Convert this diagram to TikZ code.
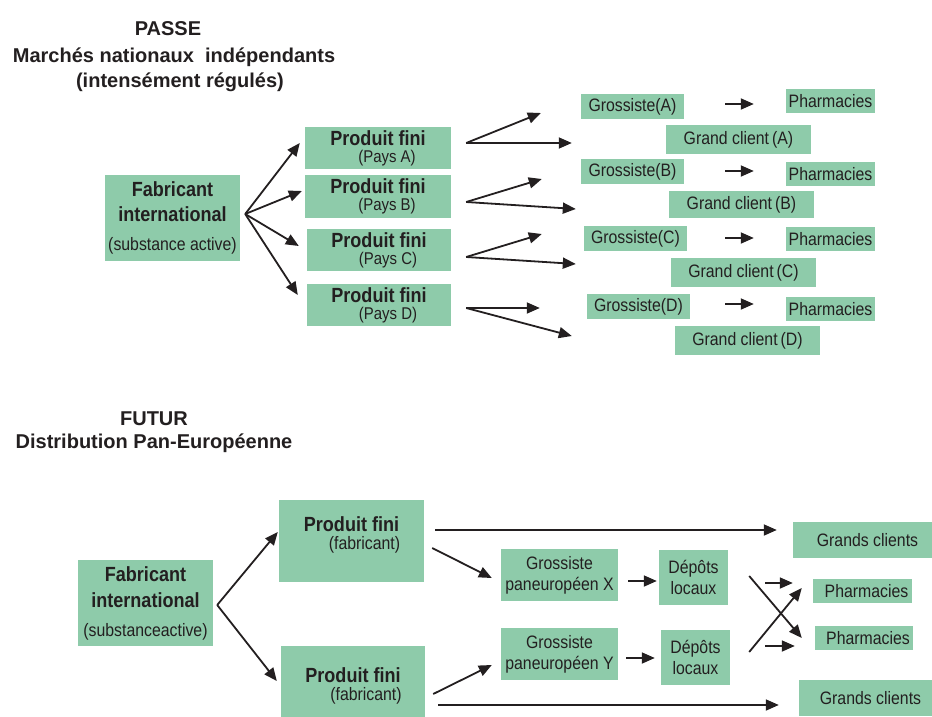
\documentclass[tikz,border=0pt]{standalone}
\usepackage{fontspec}
\setmainfont{Liberation Sans}[FakeStretch=0.88]
\newfontfamily\titlefont{Liberation Sans}
\usetikzlibrary{arrows.meta}

\definecolor{boxgreen}{RGB}{142,203,170}
\definecolor{ink}{RGB}{35,31,32}
\newcommand{\boldtxt}{\fontsize{20.5}{25}\selectfont\bfseries}
\newcommand{\paystxt}{\fontsize{17}{21}\selectfont}

\begin{document}
\begin{tikzpicture}[x=1pt, y=-1pt,
        box/.style={fill=boxgreen, inner sep=0pt, align=center, text=ink, font=\fontsize{18}{21}\selectfont},
        arrow/.style={-{Triangle[length=13pt,width=11pt]}, line width=1.8pt, draw=ink},
        title/.style={anchor=north, align=center, text=ink, inner sep=0pt, font=\titlefont\fontsize{20}{26}\selectfont\bfseries}
    ]
        \useasboundingbox (0,0) rectangle (932,717);

        % Titles
        \node[title] (passe) at (174,21) {\hspace*{-12pt}PASSE\\[1pt]Marchés nationaux \ indépendants\\[-1pt]\hspace*{12pt}(intensément régulés)};
        \node[title] (futur) at (154,412) {FUTUR\\[-3pt]Distribution Pan-Européenne};

        % Past: national markets
        \node[box, minimum width=135pt, minimum height=86pt] (fab) at (172.5,218) {{\boldtxt Fabricant}\\[4pt]{\boldtxt international}\\[8pt](substance active)};

        \node[box, minimum width=146pt, minimum height=42pt] (pfA) at (378,148) {{\boldtxt Produit fini}\\[-4pt]\hspace*{18pt}{\paystxt(Pays A)}};
        \node[box, minimum width=146pt, minimum height=43pt] (pfB) at (378,196.5) {{\boldtxt Produit fini}\\[-4pt]\hspace*{18pt}{\paystxt(Pays B)}};
        \node[box, minimum width=144pt, minimum height=42pt] (pfC) at (379,250) {{\boldtxt Produit fini}\\[-4pt]\hspace*{18pt}{\paystxt(Pays C)}};
        \node[box, minimum width=144pt, minimum height=42pt] (pfD) at (379,305) {{\boldtxt Produit fini}\\[-4pt]\hspace*{18pt}{\paystxt(Pays D)}};

        \node[box, minimum width=103pt, minimum height=25pt] (gA) at (632.5,106.5) {Grossiste(A)};
        \node[box, minimum width=89pt, minimum height=24pt] (phA) at (830.5,101) {Pharmacies};
        \node[box, minimum width=145pt, minimum height=29pt] (gcA) at (738.5,139.5) {Grand client\,(A)};

        \node[box, minimum width=103pt, minimum height=25pt] (gB) at (632.5,171.5) {Grossiste(B)};
        \node[box, minimum width=89pt, minimum height=24pt] (phB) at (830.5,174) {Pharmacies};
        \node[box, minimum width=145pt, minimum height=27pt] (gcB) at (741.5,204.5) {Grand client\,(B)};

        \node[box, minimum width=103pt, minimum height=25pt] (gC) at (635.5,238.5) {Grossiste(C)};
        \node[box, minimum width=89pt, minimum height=24pt] (phC) at (830.5,239) {Pharmacies};
        \node[box, minimum width=145pt, minimum height=29pt] (gcC) at (743.5,272.5) {Grand client\,(C)};

        \node[box, minimum width=103pt, minimum height=25pt] (gD) at (638.5,306.5) {Grossiste(D)};
        \node[box, minimum width=89pt, minimum height=24pt] (phD) at (830.5,309) {Pharmacies};
        \node[box, minimum width=145pt, minimum height=29pt] (gcD) at (747.5,340.5) {Grand client\,(D)};

        % Manufacturer to each country
        \coordinate (fork) at ([shift={(5,-4)}]fab.east);
        \draw[arrow] (fork) -- ([shift={(-5,-5)}]pfA.west);
        \draw[arrow] (fork) -- ([shift={(-3,-5.5)}]pfB.west);
        \draw[arrow] (fork) -- ([shift={(-8,-4)}]pfC.west);
        \draw[arrow] (fork) -- ([shift={(-9,-10)}]pfD.west);

        % Country to wholesalers and big clients
        \coordinate (sA) at ([shift={(15,-5)}]pfA.east);
        \draw[arrow] (sA) -- ([shift={(-40,6.5)}]gA.west);
        \draw[arrow] (sA) -- ([shift={(-94,3.5)}]gcA.west);
        \coordinate (sB) at ([shift={(15,5.5)}]pfB.east);
        \draw[arrow] (sB) -- ([shift={(-39,7.5)}]gB.west);
        \draw[arrow] (sB) -- ([shift={(-93,4.5)}]gcB.west);
        \coordinate (sC) at ([shift={(15,7)}]pfC.east);
        \draw[arrow] (sC) -- ([shift={(-42,-4.5)}]gC.west);
        \draw[arrow] (sC) -- ([shift={(-95,-8.5)}]gcC.west);
        \coordinate (sD) at ([shift={(15,3)}]pfD.east);
        \draw[arrow] (sD) -- ([shift={(-47,1.5)}]gD.west);
        \draw[arrow] (sD) -- ([shift={(-103,-4.5)}]gcD.west);

        \draw[arrow] ([shift={(41,-2.5)}]gA.east) -- ([shift={(-32,3)}]phA.west);
        \draw[arrow] ([shift={(41,-0.5)}]gB.east) -- ([shift={(-32,-3)}]phB.west);
        \draw[arrow] ([shift={(38,-0.5)}]gC.east) -- ([shift={(-32,-1)}]phC.west);
        \draw[arrow] ([shift={(35,-2.5)}]gD.east) -- ([shift={(-32,-5)}]phD.west);

        % Future: pan-European distribution
        \node[box, minimum width=135pt, minimum height=86pt] (fab2) at (145.5,603) {{\boldtxt Fabricant}\\[5pt]{\boldtxt international}\\[8pt](substanceactive)};

        \node[box, minimum width=145pt, minimum height=82pt, text depth=15pt] (pf1) at (351.5,541) {{\boldtxt Produit fini}\\[-3pt]\hspace*{26pt}(fabricant)};
        \node[box, minimum width=144pt, minimum height=71pt, text height=41pt] (pf2) at (353,681.5) {{\boldtxt Produit fini}\\[-3pt]\hspace*{26pt}(fabricant)};

        \node[box, minimum width=117pt, minimum height=52pt] (gX) at (559.5,575) {Grossiste\\paneuropéen X};
        \node[box, minimum width=69pt, minimum height=55pt] (dX) at (693.5,577.5) {Dépôts\\locaux};
        \node[box, minimum width=117pt, minimum height=52pt] (gY) at (559.5,654) {Grossiste\\paneuropéen Y};
        \node[box, minimum width=69pt, minimum height=55pt] (dY) at (695.5,657.5) {Dépôts\\locaux};

        \node[box, minimum width=139pt, minimum height=36pt] (gcl1) at (862.5,540) {\hspace*{10pt}Grands clients};
        \node[box, minimum width=99pt, minimum height=24pt] (ph1) at (862.5,591) {\hspace*{8pt}Pharmacies};
        \node[box, minimum width=98pt, minimum height=24pt] (ph2) at (864,638) {\hspace*{8pt}Pharmacies};
        \node[box, minimum width=133pt, minimum height=36pt] (gcl2) at (865.5,698) {\hspace*{10pt}Grands clients};

        \coordinate (fork2) at ([shift={(4,2)}]fab2.east);
        \draw[arrow] (fork2) -- ([shift={(-1,-9)}]pf1.west);
        \draw[arrow] (fork2) -- ([shift={(-4,-0.5)}]pf2.west);

        \draw[arrow] ([shift={(11,-11)}]pf1.east) -- ([shift={(-16,-10)}]gcl1.west);
        \draw[arrow] ([shift={(8,7)}]pf1.east) -- ([shift={(-9,3)}]gX.west);
        \draw[arrow] ([shift={(8,12.5)}]pf2.east) -- ([shift={(-9,11)}]gY.west);
        \draw[arrow] ([shift={(13,23.5)}]pf2.east) -- ([shift={(-20,7)}]gcl2.west);

        \draw[arrow] ([shift={(10,6)}]gX.east) -- ([shift={(-2,3.5)}]dX.west);
        \draw[arrow] ([shift={(8,4)}]gY.east) -- ([shift={(-6,0.5)}]dY.west);

        \draw[arrow] ([shift={(37,5.5)}]dX.east) -- ([shift={(-20,-8)}]ph1.west);
        \draw[arrow] ([shift={(35,-11.5)}]dY.east) -- ([shift={(-20,8)}]ph2.west);
        \draw[arrow] ([shift={(21,-1.5)}]dX.east) -- ([shift={(-13,0)}]ph2.west);
        \draw[arrow] ([shift={(19,-5.5)}]dY.east) -- ([shift={(-11,-3)}]ph1.west);

    \end{tikzpicture}
\end{document}
